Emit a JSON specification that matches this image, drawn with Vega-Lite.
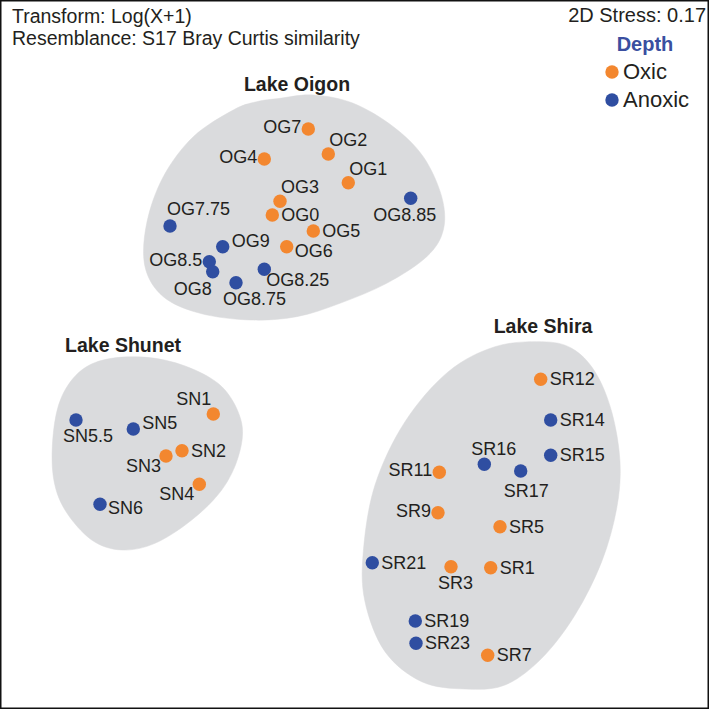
{
  "$schema": "https://vega.github.io/schema/vega-lite/v6.json",
  "width": 709,
  "height": 709,
  "autosize": {"type": "fit", "contains": "padding"},
  "padding": 0,
  "background": "#ffffff",
  "config": {
    "view": {"stroke": "#111111", "strokeWidth": 3},
    "font": "Liberation Sans",
    "text": {"font": "Liberation Sans", "color": "#231f20"}
  },
  "datasets": {
    "samples": [
      {"name": "OG7", "depth": "Oxic", "x": -0.462, "y": 2.255},
      {"name": "OG2", "depth": "Oxic", "x": -0.262, "y": 2.005},
      {"name": "OG4", "depth": "Oxic", "x": -0.902, "y": 1.955},
      {"name": "OG1", "depth": "Oxic", "x": -0.062, "y": 1.718},
      {"name": "OG3", "depth": "Oxic", "x": -0.745, "y": 1.532},
      {"name": "OG8.85", "depth": "Anoxic", "x": 0.562, "y": 1.562},
      {"name": "OG7.75", "depth": "Anoxic", "x": -1.845, "y": 1.285},
      {"name": "OG0", "depth": "Oxic", "x": -0.822, "y": 1.395},
      {"name": "OG5", "depth": "Oxic", "x": -0.412, "y": 1.235},
      {"name": "OG9", "depth": "Anoxic", "x": -1.318, "y": 1.078},
      {"name": "OG6", "depth": "Oxic", "x": -0.678, "y": 1.078},
      {"name": "OG8.5", "depth": "Anoxic", "x": -1.452, "y": 0.928},
      {"name": "OG8", "depth": "Anoxic", "x": -1.418, "y": 0.828},
      {"name": "OG8.25", "depth": "Anoxic", "x": -0.902, "y": 0.852},
      {"name": "OG8.75", "depth": "Anoxic", "x": -1.185, "y": 0.718},
      {"name": "SN1", "depth": "Oxic", "x": -1.412, "y": -0.595},
      {"name": "SN5.5", "depth": "Anoxic", "x": -2.785, "y": -0.655},
      {"name": "SN5", "depth": "Anoxic", "x": -2.212, "y": -0.745},
      {"name": "SN2", "depth": "Oxic", "x": -1.725, "y": -0.962},
      {"name": "SN3", "depth": "Oxic", "x": -1.885, "y": -1.015},
      {"name": "SN4", "depth": "Oxic", "x": -1.552, "y": -1.298},
      {"name": "SN6", "depth": "Anoxic", "x": -2.545, "y": -1.498},
      {"name": "SR12", "depth": "Oxic", "x": 1.862, "y": -0.248},
      {"name": "SR14", "depth": "Anoxic", "x": 1.962, "y": -0.655},
      {"name": "SR15", "depth": "Anoxic", "x": 1.962, "y": -1.008},
      {"name": "SR16", "depth": "Anoxic", "x": 1.298, "y": -1.098},
      {"name": "SR17", "depth": "Anoxic", "x": 1.662, "y": -1.165},
      {"name": "SR11", "depth": "Oxic", "x": 0.848, "y": -1.178},
      {"name": "SR9", "depth": "Oxic", "x": 0.835, "y": -1.582},
      {"name": "SR5", "depth": "Oxic", "x": 1.455, "y": -1.722},
      {"name": "SR21", "depth": "Anoxic", "x": 0.178, "y": -2.082},
      {"name": "SR3", "depth": "Oxic", "x": 0.965, "y": -2.122},
      {"name": "SR1", "depth": "Oxic", "x": 1.362, "y": -2.132},
      {"name": "SR19", "depth": "Anoxic", "x": 0.608, "y": -2.665},
      {"name": "SR23", "depth": "Anoxic", "x": 0.615, "y": -2.888},
      {"name": "SR7", "depth": "Oxic", "x": 1.332, "y": -3.008}
    ],
    "hulls": [
      {"lake": "Oigon", "i": 1, "x": -0.745, "y": 2.562},
      {"lake": "Oigon", "i": 2, "x": -0.412, "y": 2.595},
      {"lake": "Oigon", "i": 3, "x": -0.012, "y": 2.512},
      {"lake": "Oigon", "i": 4, "x": 0.388, "y": 2.278},
      {"lake": "Oigon", "i": 5, "x": 0.688, "y": 1.978},
      {"lake": "Oigon", "i": 6, "x": 0.872, "y": 1.578},
      {"lake": "Oigon", "i": 7, "x": 0.888, "y": 1.245},
      {"lake": "Oigon", "i": 8, "x": 0.722, "y": 0.978},
      {"lake": "Oigon", "i": 9, "x": 0.322, "y": 0.712},
      {"lake": "Oigon", "i": 10, "x": -0.145, "y": 0.512},
      {"lake": "Oigon", "i": 11, "x": -0.578, "y": 0.378},
      {"lake": "Oigon", "i": 12, "x": -1.045, "y": 0.345},
      {"lake": "Oigon", "i": 13, "x": -1.545, "y": 0.412},
      {"lake": "Oigon", "i": 14, "x": -1.912, "y": 0.578},
      {"lake": "Oigon", "i": 15, "x": -2.095, "y": 0.878},
      {"lake": "Oigon", "i": 16, "x": -2.078, "y": 1.312},
      {"lake": "Oigon", "i": 17, "x": -1.912, "y": 1.778},
      {"lake": "Oigon", "i": 18, "x": -1.612, "y": 2.178},
      {"lake": "Oigon", "i": 19, "x": -1.212, "y": 2.445},
      {"lake": "Oigon", "i": 20, "x": -0.978, "y": 2.528},
      {"lake": "Shunet", "i": 1, "x": -1.995, "y": -0.038},
      {"lake": "Shunet", "i": 2, "x": -1.595, "y": -0.155},
      {"lake": "Shunet", "i": 3, "x": -1.295, "y": -0.355},
      {"lake": "Shunet", "i": 4, "x": -1.128, "y": -0.688},
      {"lake": "Shunet", "i": 5, "x": -1.162, "y": -1.022},
      {"lake": "Shunet", "i": 6, "x": -1.328, "y": -1.355},
      {"lake": "Shunet", "i": 7, "x": -1.628, "y": -1.655},
      {"lake": "Shunet", "i": 8, "x": -1.995, "y": -1.888},
      {"lake": "Shunet", "i": 9, "x": -2.328, "y": -1.955},
      {"lake": "Shunet", "i": 10, "x": -2.628, "y": -1.855},
      {"lake": "Shunet", "i": 11, "x": -2.895, "y": -1.555},
      {"lake": "Shunet", "i": 12, "x": -3.012, "y": -1.222},
      {"lake": "Shunet", "i": 13, "x": -3.012, "y": -0.788},
      {"lake": "Shunet", "i": 14, "x": -2.928, "y": -0.422},
      {"lake": "Shunet", "i": 15, "x": -2.728, "y": -0.155},
      {"lake": "Shunet", "i": 16, "x": -2.428, "y": -0.038},
      {"lake": "Shira", "i": 1, "x": 1.872, "y": 0.128},
      {"lake": "Shira", "i": 2, "x": 2.172, "y": 0.062},
      {"lake": "Shira", "i": 3, "x": 2.405, "y": -0.172},
      {"lake": "Shira", "i": 4, "x": 2.572, "y": -0.572},
      {"lake": "Shira", "i": 5, "x": 2.655, "y": -1.072},
      {"lake": "Shira", "i": 6, "x": 2.622, "y": -1.538},
      {"lake": "Shira", "i": 7, "x": 2.472, "y": -2.072},
      {"lake": "Shira", "i": 8, "x": 2.205, "y": -2.605},
      {"lake": "Shira", "i": 9, "x": 1.872, "y": -3.038},
      {"lake": "Shira", "i": 10, "x": 1.505, "y": -3.305},
      {"lake": "Shira", "i": 11, "x": 1.105, "y": -3.345},
      {"lake": "Shira", "i": 12, "x": 0.672, "y": -3.272},
      {"lake": "Shira", "i": 13, "x": 0.305, "y": -2.972},
      {"lake": "Shira", "i": 14, "x": 0.105, "y": -2.472},
      {"lake": "Shira", "i": 15, "x": 0.088, "y": -1.972},
      {"lake": "Shira", "i": 16, "x": 0.205, "y": -1.305},
      {"lake": "Shira", "i": 17, "x": 0.505, "y": -0.672},
      {"lake": "Shira", "i": 18, "x": 0.938, "y": -0.172},
      {"lake": "Shira", "i": 19, "x": 1.405, "y": 0.078}
    ],
    "lakes": [
      {"label": "Lake Oigon", "x": -0.575, "y": 2.695},
      {"label": "Lake Shunet", "x": -2.315, "y": 0.085},
      {"label": "Lake Shira", "x": 1.885, "y": 0.275}
    ],
    "notesLeft": [
      {"label": "Transform: Log(X+1)", "x": -3.425, "y": 3.38},
      {"label": "Resemblance: S17 Bray Curtis similarity", "x": -3.425, "y": 3.16}
    ],
    "notesRight": [
      {"label": "2D Stress: 0.17", "x": 3.515, "y": 3.39}
    ]
  },
  "encoding": {
    "x": {"field": "x", "type": "quantitative", "scale": {"domain": [-3.545, 3.545], "nice": false, "zero": false}, "axis": null},
    "y": {"field": "y", "type": "quantitative", "scale": {"domain": [-3.545, 3.545], "nice": false, "zero": false}, "axis": null}
  },
  "layer": [
    {
      "data": {"name": "hulls"},
      "mark": {"type": "line", "interpolate": "cardinal-closed", "fill": "#dadbdd", "stroke": "#dadbdd", "strokeWidth": 0.5},
      "encoding": {
        "detail": {"field": "lake", "type": "nominal"},
        "order": {"field": "i", "type": "quantitative"}
      }
    },
    {
      "data": {"name": "samples"},
      "mark": {"type": "point", "filled": true, "opacity": 1, "size": 180, "strokeWidth": 0},
      "encoding": {
        "color": {
          "field": "depth", "type": "nominal",
          "scale": {"domain": ["Oxic", "Anoxic"], "range": ["#f3872f", "#2f4ea1"]},
          "legend": {
            "title": "Depth", "orient": "none", "legendX": 601, "legendY": 35,
            "titleColor": "#3a4fa0", "titleFontSize": 20, "titleFontWeight": "bold", "titleFont": "Liberation Sans",
            "titleAnchor": "middle", "titlePadding": 6,
            "labelFontSize": 22, "labelFont": "Liberation Sans", "labelColor": "#231f20", "labelOffset": 0,
            "symbolType": "circle", "symbolSize": 180, "symbolOpacity": 1, "symbolStrokeWidth": 0, "rowPadding": 6
          }
        }
      }
    },
    {
      "data": {"name": "samples"},
      "transform": [{"filter": {"field": "name", "oneOf": ["OG0", "OG5", "SN2", "SR12", "SR14", "SR15", "SR5", "SR21", "SR1", "SR19", "SR23", "SR7"]}}],
      "mark": {"type": "text", "align": "left", "baseline": "middle", "dx": 9, "dy": 1, "fontSize": 18},
      "encoding": {"text": {"field": "name"}}
    },
    {
      "data": {"name": "samples"},
      "transform": [{"filter": {"field": "name", "oneOf": ["OG6", "SN6"]}}],
      "mark": {"type": "text", "align": "left", "baseline": "middle", "dx": 8, "dy": 5, "fontSize": 18},
      "encoding": {"text": {"field": "name"}}
    },
    {
      "data": {"name": "samples"},
      "transform": [{"filter": {"field": "name", "oneOf": ["OG9", "SN5"]}}],
      "mark": {"type": "text", "align": "left", "baseline": "middle", "dx": 9, "dy": -5, "fontSize": 18},
      "encoding": {"text": {"field": "name"}}
    },
    {
      "data": {"name": "samples"},
      "transform": [{"filter": {"field": "name", "oneOf": ["OG7", "OG4", "OG8.5", "SR11", "SR9"]}}],
      "mark": {"type": "text", "align": "right", "baseline": "middle", "dx": -7, "dy": -1, "fontSize": 18},
      "encoding": {"text": {"field": "name"}}
    },
    {
      "data": {"name": "samples"},
      "transform": [{"filter": {"field": "name", "oneOf": ["OG2", "OG1", "OG3"]}}],
      "mark": {"type": "text", "align": "left", "baseline": "middle", "dx": 1, "dy": -13, "fontSize": 18},
      "encoding": {"text": {"field": "name"}}
    },
    {
      "data": {"name": "samples"},
      "transform": [{"filter": {"field": "name", "oneOf": ["OG7.75"]}}],
      "mark": {"type": "text", "align": "left", "baseline": "middle", "dx": -3, "dy": -16, "fontSize": 18},
      "encoding": {"text": {"field": "name"}}
    },
    {
      "data": {"name": "samples"},
      "transform": [{"filter": {"field": "name", "oneOf": ["SN1"]}}],
      "mark": {"type": "text", "align": "right", "baseline": "middle", "dx": -2, "dy": -14, "fontSize": 18},
      "encoding": {"text": {"field": "name"}}
    },
    {
      "data": {"name": "samples"},
      "transform": [{"filter": {"field": "name", "oneOf": ["SR16"]}}],
      "mark": {"type": "text", "align": "left", "baseline": "middle", "dx": -13, "dy": -14, "fontSize": 18},
      "encoding": {"text": {"field": "name"}}
    },
    {
      "data": {"name": "samples"},
      "transform": [{"filter": {"field": "name", "oneOf": ["OG8.75", "SN5.5", "SR3"]}}],
      "mark": {"type": "text", "align": "left", "baseline": "middle", "dx": -13, "dy": 17, "fontSize": 18},
      "encoding": {"text": {"field": "name"}}
    },
    {
      "data": {"name": "samples"},
      "transform": [{"filter": {"field": "name", "oneOf": ["SR17"]}}],
      "mark": {"type": "text", "align": "left", "baseline": "middle", "dx": -17, "dy": 21, "fontSize": 18},
      "encoding": {"text": {"field": "name"}}
    },
    {
      "data": {"name": "samples"},
      "transform": [{"filter": {"field": "name", "oneOf": ["SN3", "SN4"]}}],
      "mark": {"type": "text", "align": "right", "baseline": "middle", "dx": -5, "dy": 11, "fontSize": 18},
      "encoding": {"text": {"field": "name"}}
    },
    {
      "data": {"name": "samples"},
      "transform": [{"filter": {"field": "name", "oneOf": ["OG8"]}}],
      "mark": {"type": "text", "align": "right", "baseline": "middle", "dx": -1, "dy": 18, "fontSize": 18},
      "encoding": {"text": {"field": "name"}}
    },
    {
      "data": {"name": "samples"},
      "transform": [{"filter": {"field": "name", "oneOf": ["OG8.85"]}}],
      "mark": {"type": "text", "align": "center", "baseline": "middle", "dx": -6, "dy": 18, "fontSize": 18},
      "encoding": {"text": {"field": "name"}}
    },
    {
      "data": {"name": "samples"},
      "transform": [{"filter": {"field": "name", "oneOf": ["OG8.25"]}}],
      "mark": {"type": "text", "align": "left", "baseline": "middle", "dx": 2, "dy": 12, "fontSize": 18},
      "encoding": {"text": {"field": "name"}}
    },
    {
      "data": {"name": "lakes"},
      "mark": {"type": "text", "align": "center", "baseline": "middle", "fontSize": 19.5, "fontWeight": "bold", "color": "#231f20"},
      "encoding": {"text": {"field": "label"}}
    },
    {
      "data": {"name": "notesLeft"},
      "mark": {"type": "text", "align": "left", "baseline": "middle", "fontSize": 19.5},
      "encoding": {"text": {"field": "label"}}
    },
    {
      "data": {"name": "notesRight"},
      "mark": {"type": "text", "align": "right", "baseline": "middle", "fontSize": 20},
      "encoding": {"text": {"field": "label"}}
    }
  ]
}
